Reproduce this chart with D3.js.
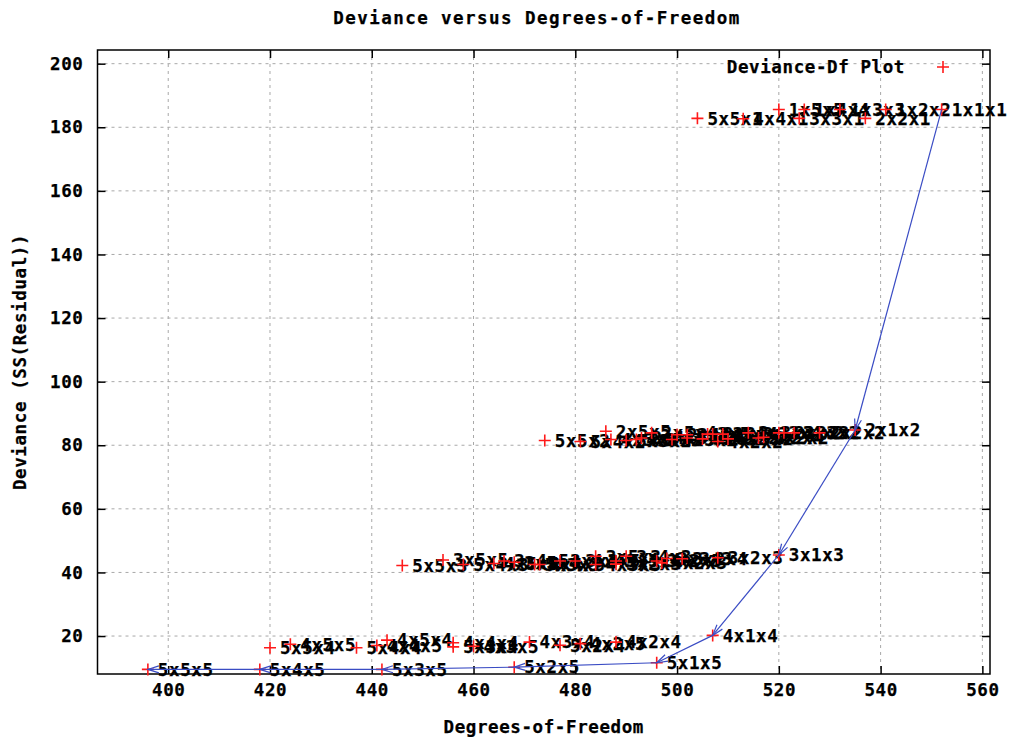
<!DOCTYPE html>
<html>
<head>
<meta charset="utf-8">
<script src="https://cdn.jsdelivr.net/npm/d3@7"></script>
<style>
  html, body { margin: 0; padding: 0; background: #fff; }
  svg { display: block; }
  text { font-family: "DejaVu Sans Mono", monospace; font-weight: bold; font-size: 17.5px; letter-spacing: 0.6px; fill: #000; stroke: #000; stroke-width: 0.25px; }
  text.title { letter-spacing: 1.45px; }
</style>
</head>
<body>
<svg id="chart" width="1010" height="737"></svg>
<script>
// Tucker3 model sizes (P x Q x R) with their residual degrees of freedom and deviance
const models = [
  "1x1x1","1x2x2","1x3x3","1x4x4","1x5x5",
  "2x2x1","3x3x1","4x4x1","5x5x1",
  "2x1x2","2x2x2","2x3x2","2x4x2",
  "2x2x3","2x3x3","2x4x3","2x5x3",
  "2x2x4","2x3x4","2x4x4","2x5x4",
  "2x3x5","2x4x5","2x5x5",
  "3x2x2","3x3x2","3x4x2","3x5x2",
  "4x2x2","4x3x2","4x4x2","4x5x2",
  "5x3x2","5x4x2","5x5x2",
  "3x1x3","3x2x3","3x3x3","3x4x3","3x5x3",
  "3x2x4","3x3x4","3x4x4","3x5x4",
  "3x2x5","3x3x5","3x4x5","3x5x5",
  "4x2x3","4x3x3","4x4x3","4x5x3",
  "5x2x3","5x3x3","5x4x3","5x5x3",
  "4x1x4","4x2x4","4x3x4","4x4x4","4x5x4",
  "4x2x5","4x3x5","4x4x5","4x5x5",
  "5x2x4","5x3x4","5x4x4","5x5x4",
  "5x1x5","5x2x5","5x3x5","5x4x5","5x5x5"
];
const degreesOfFreedom = [
  552, 541, 532, 525, 520,
  537, 524, 513, 504,
  535, 528, 523, 520,
  521, 514, 509, 506,
  516, 507, 500, 495,
  502, 493, 486,
  517, 510, 505, 502,
  508, 499, 492, 487,
  490, 481, 474,
  520, 508, 498, 490, 484,
  501, 488, 477, 468,
  496, 480, 466, 454,
  497, 484, 473, 464,
  488, 472, 458, 446,
  507, 488, 471, 456, 443,
  481, 460, 441, 424,
  477, 456, 437, 420,
  496, 468, 442, 418, 396
];
const deviance = [
  185.6, 185.6, 185.6, 185.6, 185.6,
  182.8, 182.8, 182.7, 182.8,
  84.8, 83.9, 83.9, 83.9,
  83.9, 83.9, 83.5, 83.5,
  82.3, 83.5, 83.3, 83.9,
  83.3, 82.3, 84.4,
  82.5, 82.0, 82.0, 82.3,
  81.2, 81.8, 81.8, 81.8,
  81.5, 81.2, 81.5,
  45.5, 44.6, 44.4, 45.1, 45.1,
  44.3, 43.6, 43.6, 43.2,
  43.6, 43.6, 43.6, 43.9,
  43.0, 42.5, 42.5, 42.8,
  42.6, 42.5, 42.5, 42.2,
  20.2, 18.1, 18.1, 17.9, 18.7,
  17.6, 16.8, 17.0, 17.4,
  17.1, 16.6, 16.3, 16.3,
  11.6, 10.2, 9.5, 9.5, 9.5
];
// Sequence of models joined by the arrow path
const pathModels = ["1x1x1","2x1x2","3x1x3","4x1x4","5x1x5","5x2x5","5x3x5","5x4x5","5x5x5"];

const xTicks = [400, 420, 440, 460, 480, 500, 520, 540, 560];
const yTicks = [20, 40, 60, 80, 100, 120, 140, 160, 180, 200];
const xRange = [386.1, 561.5];
const yRange = [8.06, 204.3];

const titleText = "Deviance versus Degrees-of-Freedom";
const xLabel = "Degrees-of-Freedom";
const yLabel = "Deviance (SS(Residual))";
const legendText = "Deviance-Df Plot";

const plot = { left: 97.5, right: 990, top: 50, bottom: 674 };

const svg = d3.select("#chart");
const x = d3.scaleLinear().domain(xRange).range([plot.left, plot.right]);
const y = d3.scaleLinear().domain(yRange).range([plot.bottom, plot.top]);

const points = models.map((m, i) => ({ label: m, df: degreesOfFreedom[i], dev: deviance[i] }));
const byLabel = new Map(points.map(p => [p.label, p]));

// Dotted grid
const grid = svg.append("g").attr("stroke", "#a8a8a8").attr("stroke-width", 1).attr("stroke-dasharray", "3,4");
grid.selectAll(".gx").data(xTicks).join("line")
  .attr("x1", d => x(d)).attr("x2", d => x(d))
  .attr("y1", plot.top).attr("y2", plot.bottom);
grid.selectAll(".gy").data(yTicks).join("line")
  .attr("x1", plot.left).attr("x2", plot.right)
  .attr("y1", d => y(d)).attr("y2", d => y(d));

// Axes with inward ticks, mirrored on top and right
function styleAxis(g) {
  g.select(".domain").remove();
  g.selectAll(".tick line").attr("stroke", "#000").attr("stroke-width", 1.5);
  g.selectAll(".tick text").attr("fill", "#000").style("font-family", null).style("font-size", null);
  g.attr("font-family", null).attr("font-size", null);
}
svg.append("g").attr("transform", `translate(0,${plot.bottom})`)
  .call(d3.axisBottom(x).tickValues(xTicks).tickSizeInner(-8).tickSizeOuter(0).tickPadding(10).tickFormat(d3.format("d")))
  .call(styleAxis);
svg.append("g").attr("transform", `translate(0,${plot.top})`)
  .call(d3.axisTop(x).tickValues(xTicks).tickSizeInner(-8).tickSizeOuter(0).tickFormat(""))
  .call(styleAxis);
svg.append("g").attr("transform", `translate(${plot.left},0)`)
  .call(d3.axisLeft(y).tickValues(yTicks).tickSizeInner(-8).tickSizeOuter(0).tickPadding(14).tickFormat(d3.format("d")))
  .call(styleAxis);
svg.append("g").attr("transform", `translate(${plot.right},0)`)
  .call(d3.axisRight(y).tickValues(yTicks).tickSizeInner(-8).tickSizeOuter(0).tickFormat(""))
  .call(styleAxis);

// Frame
svg.append("rect")
  .attr("x", plot.left).attr("y", plot.top)
  .attr("width", plot.right - plot.left).attr("height", plot.bottom - plot.top)
  .attr("fill", "none").attr("stroke", "#000").attr("stroke-width", 1.5);

// Point labels
svg.append("g").selectAll("text").data(points).join("text")
  .attr("x", d => x(d.df) + 10)
  .attr("y", d => y(d.dev))
  .attr("dy", "0.36em")
  .text(d => d.label);

// Point markers
const plusPath = "M-6,0H6M0,-6V6";
svg.append("g").attr("stroke", "#ff1a1a").attr("stroke-width", 1.6).attr("fill", "none")
  .selectAll("path").data(points).join("path")
  .attr("transform", d => `translate(${x(d.df)},${y(d.dev)})`)
  .attr("d", plusPath);

// Arrow path between successive models
svg.append("defs").append("marker")
  .attr("id", "head").attr("markerUnits", "userSpaceOnUse")
  .attr("viewBox", "-12 -6 14 12").attr("refX", 0).attr("refY", 0)
  .attr("markerWidth", 14).attr("markerHeight", 12).attr("orient", "auto")
  .append("path").attr("d", "M-11,-3.5L0,0L-11,3.5")
  .attr("fill", "none").attr("stroke", "#3a4cc4").attr("stroke-width", 1.2);

const seq = pathModels.map(m => byLabel.get(m));
const segs = d3.pairs(seq);
svg.append("g").selectAll("line").data(segs).join("line")
  .attr("x1", d => x(d[0].df)).attr("y1", d => y(d[0].dev))
  .attr("x2", d => x(d[1].df)).attr("y2", d => y(d[1].dev))
  .attr("stroke", "#3a4cc4").attr("stroke-width", 1.2)
  .attr("marker-end", "url(#head)");

// Legend
svg.append("text").attr("x", 905).attr("y", 67).attr("dy", "0.36em")
  .attr("text-anchor", "end").text(legendText);
svg.append("path").attr("transform", "translate(943,67)").attr("d", plusPath)
  .attr("stroke", "#ff1a1a").attr("stroke-width", 1.6).attr("fill", "none");

// Title and axis labels
svg.append("text").attr("class", "title").attr("x", 537).attr("y", 18).attr("dy", "0.36em")
  .attr("text-anchor", "middle").text(titleText);
svg.append("text").attr("x", (plot.left + plot.right) / 2).attr("y", 727).attr("dy", "0.36em")
  .attr("text-anchor", "middle").text(xLabel);
svg.append("text")
  .attr("transform", `translate(20,${(plot.top + plot.bottom) / 2}) rotate(-90)`)
  .attr("dy", "0.36em").attr("text-anchor", "middle").text(yLabel);
</script>
</body>
</html>
